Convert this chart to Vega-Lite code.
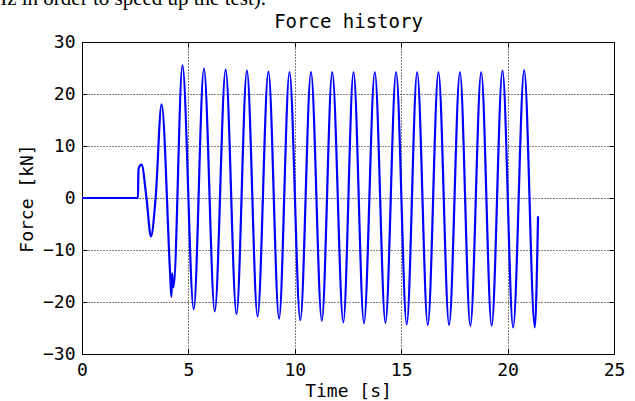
{
  "$schema": "https://vega.github.io/schema/vega-lite/v6.json",
  "width": 532,
  "height": 312,
  "autosize": {"type": "none"},
  "padding": {"left": 82, "top": 42, "right": 21, "bottom": 47},
  "title": {"text": "Hz in order to speed up the test).", "anchor": "start", "frame": "group", "font": "Liberation Serif", "fontSize": 21, "fontWeight": "normal", "color": "black", "dx": -90, "dy": 0},
  "config": {
    "view": {"stroke": "black", "strokeWidth": 1},
    "axis": {
      "domain": false,
      "labelFont": "DejaVu Sans Mono", "labelFontSize": 18, "labelColor": "black",
      "labelFlush": false, "labelOverlap": false,
      "titleFont": "DejaVu Sans Mono", "titleFontSize": 18, "titleFontWeight": "normal", "titleColor": "black",
      "tickColor": "black", "tickSize": -5, "tickWidth": 1,
      "gridColor": "black", "gridDash": [1, 2], "gridOpacity": 1, "gridWidth": 1
    }
  },
  "data": {"values": [
    {"t": 0, "f": 0}, {"t": 2.63, "f": 0}, {"t": 2.655, "f": 5.6}, {"t": 2.8, "f": 6.4},
    {"t": 3.03, "f": 0}, {"t": 3.24, "f": -7.4}, {"t": 3.46, "f": 0}, {"t": 3.74, "f": 18.0},
    {"t": 4.14, "f": -14.5}, {"t": 4.2, "f": -19.0}, {"t": 4.24, "f": -14.5}, {"t": 4.3, "f": -17.2},
    {"t": 4.72, "f": 25.5}, {"t": 5.25, "f": -21.4}, {"t": 5.73, "f": 24.9}, {"t": 6.24, "f": -21.8},
    {"t": 6.75, "f": 24.7}, {"t": 7.26, "f": -22.3}, {"t": 7.75, "f": 24.5}, {"t": 8.25, "f": -22.8},
    {"t": 8.76, "f": 24.3}, {"t": 9.26, "f": -23.2}, {"t": 9.75, "f": 24.2}, {"t": 10.26, "f": -23.5},
    {"t": 10.76, "f": 24.2}, {"t": 11.27, "f": -23.6}, {"t": 11.76, "f": 24.2}, {"t": 12.28, "f": -23.9},
    {"t": 12.76, "f": 24.2}, {"t": 13.25, "f": -24.1}, {"t": 13.76, "f": 24.2}, {"t": 14.26, "f": -24.0},
    {"t": 14.76, "f": 24.2}, {"t": 15.26, "f": -24.3}, {"t": 15.75, "f": 24.2}, {"t": 16.25, "f": -24.4},
    {"t": 16.75, "f": 24.2}, {"t": 17.25, "f": -24.4}, {"t": 17.76, "f": 24.2}, {"t": 18.25, "f": -24.6},
    {"t": 18.76, "f": 24.2}, {"t": 19.25, "f": -24.6}, {"t": 19.76, "f": 24.5}, {"t": 20.26, "f": -24.9},
    {"t": 20.78, "f": 24.6}, {"t": 21.28, "f": -24.9}, {"t": 21.43, "f": -3.5}
  ]},
  "layer": [
    {
      "mark": {"type": "line", "color": "#0000ff", "strokeWidth": 2.2, "interpolate": "monotone"},
      "encoding": {
        "x": {"field": "t", "type": "quantitative", "scale": {"domain": [0, 25], "nice": false},
              "axis": {"orient": "bottom", "values": [0, 5, 10, 15, 20, 25], "grid": true, "title": "Time [s]", "labelPadding": 12, "titlePadding": 3}},
        "y": {"field": "f", "type": "quantitative", "scale": {"domain": [-30, 30], "nice": false},
              "axis": {"orient": "left", "values": [-30, -20, -10, 0, 10, 20, 30], "grid": true, "title": "Force [kN]", "labelPadding": 12, "titlePadding": 6}}
      }
    },
    {
      "mark": {"type": "line", "opacity": 0},
      "encoding": {
        "x": {"field": "t", "type": "quantitative", "scale": {"domain": [0, 25], "nice": false},
              "axis": {"orient": "top", "values": [0, 5, 10, 15, 20, 25], "grid": false, "labels": false, "title": "Force history", "titleFontSize": 19, "titlePadding": 10}},
        "y": {"field": "f", "type": "quantitative", "scale": {"domain": [-30, 30], "nice": false},
              "axis": {"orient": "right", "values": [-30, -20, -10, 0, 10, 20, 30], "grid": false, "labels": false, "title": null}}
      }
    }
  ],
  "resolve": {"axis": {"x": "independent", "y": "independent"}}
}
